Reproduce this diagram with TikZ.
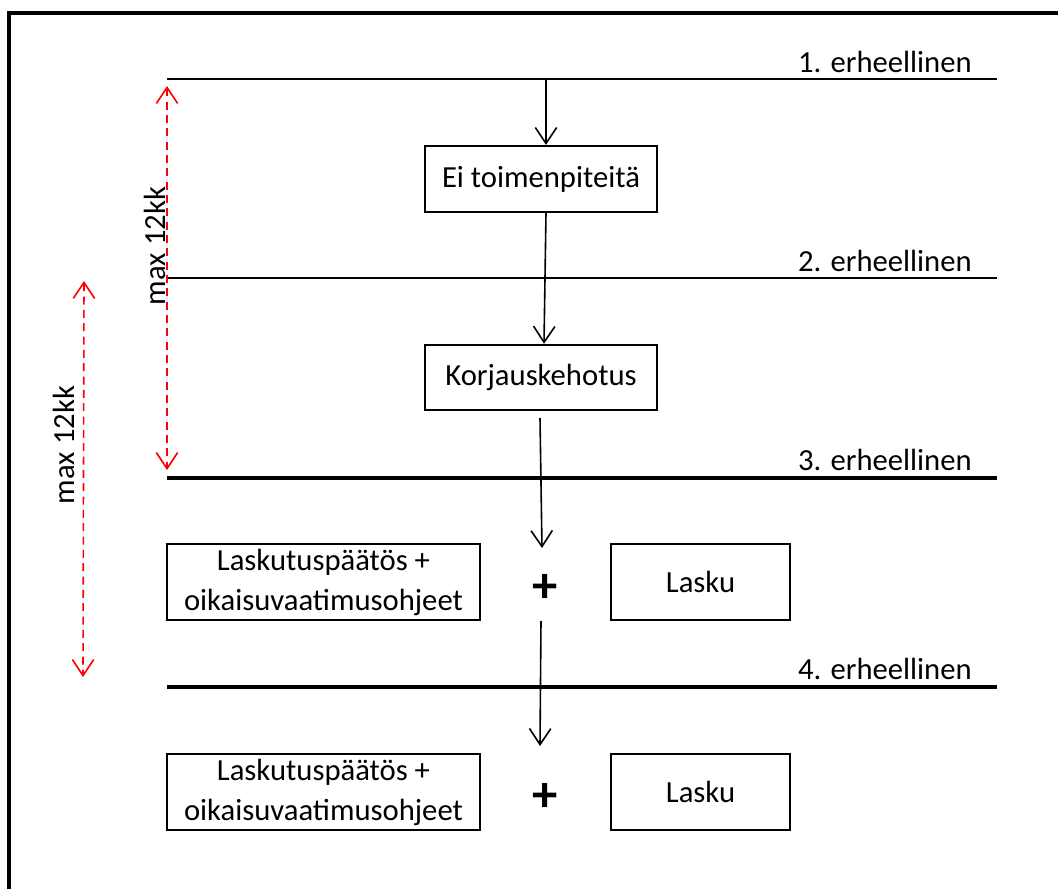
\documentclass[tikz,border=0pt]{standalone}
\usepackage{fontspec}
\setmainfont{Carlito}
\usetikzlibrary{arrows.meta}
\usetikzlibrary{positioning}
\usetikzlibrary{calc}

\tikzset{
  laatikko/.style={draw, line width=1.6pt, inner sep=0pt, align=center,
    font=\fontsize{23}{30}\selectfont},
  raja/.style={line width=1pt},
  rajapaksu/.style={line width=2.5pt},
  rajateksti/.style={anchor=base east, inner sep=0pt, font=\fontsize{23}{28}\selectfont},
  nuoli/.style={line width=1.2pt, -{Straight Barb[length=12pt,width=16pt,line width=1.2pt]}},
  maxnuoli/.style={red, line width=1.2pt, dash pattern=on 6pt off 4pt,
    {Straight Barb[length=12pt,width=16pt,line width=1.2pt]}-{Straight Barb[length=12pt,width=16pt,line width=1.2pt]}},
  maxteksti/.style={rotate=90, anchor=base, inner sep=0pt, font=\fontsize{23}{28}\selectfont},
  plus/.style={inner sep=0pt, font=\fontsize{38}{40}\selectfont\bfseries}
}

\begin{document}
\begin{tikzpicture}[x=0.75pt,y=0.75pt,yscale=-1,xscale=1]
\useasboundingbox (0,0) rectangle (1058,889);

%Frame
\draw[line width=2.6pt] (9,889) -- (9,13) -- (1058,13);

%Straight Lines
\coordinate (l1w) at (167,79);  \coordinate (l1e) at (997,79);
\coordinate (l2w) at (167,278); \coordinate (l2e) at (997,278);
\coordinate (l3w) at (167,478); \coordinate (l3e) at (997,478);
\coordinate (l4w) at (167,687); \coordinate (l4e) at (997,687);
\draw[raja] (l1w) -- (l1e);
\draw[raja] (l2w) -- (l2e);
\draw[rajapaksu] (l3w) -- (l3e);
\draw[rajapaksu] (l4w) -- (l4e);

% Text Node
\node[rajateksti] (r1) at (972,72) {1. erheellinen};
\node[rajateksti] (r2) at (972,271) {2. erheellinen};
\node[rajateksti] (r3) at (972,470) {3. erheellinen};
\node[rajateksti] (r4) at (972,679) {4. erheellinen};

%Boxes
\node[laatikko, minimum width=174pt, minimum height=49.5pt] (ei) at (541,179) {Ei toimenpiteitä};
\node[laatikko, minimum width=174pt, minimum height=49pt] (korj) at (541,377.5) {Korjauskehotus};
\node[laatikko, minimum width=235pt, minimum height=57pt] (lp1) at (323.5,582) {Laskutuspäätös +\\oikaisuvaatimusohjeet};
\node[laatikko, minimum width=134pt, minimum height=57pt] (lasku1) at (700.5,582) {Lasku};
\node[plus] (plus1) at (545,588) {+};
\node[laatikko, minimum width=235pt, minimum height=57pt] (lp2) at (323.5,792) {Laskutuspäätös +\\oikaisuvaatimusohjeet};
\node[laatikko, minimum width=134pt, minimum height=57pt] (lasku2) at (700.5,792) {Lasku};
\node[plus] (plus2) at (545,797) {+};

%Arrows
\coordinate (a3a) at (540,418); \coordinate (a3b) at (542,548);
\coordinate (a4a) at (541,621); \coordinate (a4b) at (540,746);
\draw[nuoli] ($(ei.north |- l1w)+(5,0)$) -- ($(ei.north)+(5,0)$);
\draw[nuoli] ($(ei.south)+(5,0)$) -- ($(korj.north)+(3,0)$);
\draw[nuoli] (a3a) -- (a3b);
\draw[nuoli] (a4a) -- (a4b);

%max 12kk
\coordinate (m1a) at (167,86);  \coordinate (m1b) at (167,470);
\coordinate (m2a) at (84,281);  \coordinate (m2b) at (83,677);
\draw[maxnuoli] (m1a) -- (m1b);
\draw[maxnuoli] (m2a) -- (m2b);
\node[maxteksti] (max1) at (165,246) {max 12kk};
\node[maxteksti] (max2) at (74,445) {max 12kk};

\end{tikzpicture}
\end{document}
